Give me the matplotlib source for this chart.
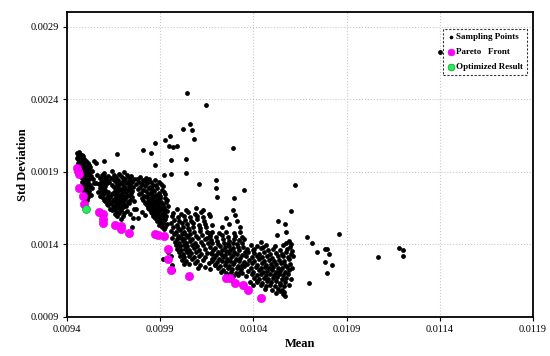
import numpy as np
import matplotlib
matplotlib.use("Agg")
import matplotlib.pyplot as plt
from matplotlib.ticker import FixedLocator

# All values in units of 1e-6 (mean, std)
UNIT = 1e-6

# ---- Sampling points, grouped by region of the cloud ----
strip_pts = [(9455,2030),(9462,2035),(9470,2025),(9478,2015),(9458,2010),(9466,2000),(9475,1998),(9485,2005),(9492,1990),(9460,1985),(9470,1978),(9480,1972),(9490,1965),(9500,1975),(9510,1960),(9465,1955),(9475,1950),(9485,1945),(9495,1940),(9505,1935),(9515,1945),(9525,1930),(9470,1925),(9480,1920),(9490,1912),(9500,1905),(9510,1915),(9520,1900),(9475,1895),(9485,1888),(9495,1880),(9505,1875),(9515,1885),(9528,1870),(9478,1860),(9488,1855),(9498,1848),(9508,1842),(9518,1850),(9482,1830),(9492,1822),(9502,1815),(9512,1820),(9522,1808),(9486,1800),(9496,1792),(9506,1785),(9516,1790),(9490,1770),(9500,1762),(9510,1755),(9520,1765),(9494,1740),(9504,1732),(9514,1725),(9498,1712),(9508,1705),(9530,1740),(9535,1790),(9540,1850),(9542,1971),(9556,1962),(9599,1974),(9468,1940),(9458,1960),(9452,1995),(9472,1905),(9482,1875),(9532,1905),(9545,1820)]

blob2_pts = [(9600,1893),(9680,1886),(9705,1895),
    (9585,1878),(9620,1871),(9650,1880),(9690,1872),(9720,1877),(9745,1870),
    (9575,1856),(9605,1864),(9635,1858),(9662,1862),(9700,1855),(9730,1863),
    (9590,1848),(9615,1841),(9645,1849),(9675,1843),(9710,1847),(9740,1840),(9760,1850),
    (9580,1826),(9600,1834),(9625,1828),(9655,1833),(9685,1825),(9700,1836),(9725,1829),(9750,1832),
    (9572,1818),(9595,1812),(9612,1820),(9640,1811),(9668,1817),(9695,1813),(9718,1820),(9738,1810),
    (9585,1796),(9605,1804),(9650,1798),(9675,1805),(9705,1797),(9730,1802),(9755,1795),
    (9578,1788),(9598,1781),(9660,1789),(9688,1782),(9712,1786),(9740,1780),
    (9590,1766),(9606,1774),(9655,1768),(9678,1775),(9700,1767),(9725,1772),(9750,1765),
    (9582,1758),(9600,1751),(9618,1759),(9648,1752),(9668,1757),(9692,1750),(9718,1758),(9742,1753),
    (9575,1736),(9595,1744),(9620,1738),(9640,1745),(9662,1737),(9685,1742),(9708,1735),(9732,1743),
    (9588,1728),(9610,1721),(9632,1729),(9655,1722),(9678,1727),(9700,1720),(9722,1730),(9748,1724),
    (9598,1706),(9618,1713),(9645,1707),(9668,1714),(9690,1705),(9712,1712),(9738,1708),
    (9605,1698),(9628,1691),(9650,1699),(9675,1692),(9698,1697),(9725,1690),
    (9612,1676),(9638,1683),(9660,1677),(9682,1684),(9705,1678),(9730,1682),
    (9620,1668),(9645,1661),(9668,1669),(9690,1662),(9715,1667),
    (9630,1646),(9655,1653),(9678,1647),(9700,1654),
    (9640,1638),(9665,1631),(9690,1639),(9720,1632),
    (9655,1612),(9680,1619),(9705,1613),
    (9670,1598),(9700,1592),(9690,1577),
    (9666,2024),(9640,1905),(9560,1880),(9555,1820),(9565,1760),(9760,1700),(9770,1640),(9740,1610),(9755,1580)]

blob3_pts = [(9790,1862),(9822,1856),
    (9775,1848),(9806,1842),(9840,1850),(9872,1840),
    (9786,1828),(9816,1834),(9850,1826),(9895,1832),
    (9772,1818),(9800,1812),(9831,1820),(9862,1810),(9905,1816),
    (9790,1796),(9820,1804),(9845,1798),(9876,1806),(9915,1800),
    (9780,1784),(9810,1776),(9838,1786),(9858,1778),(9885,1788),(9910,1776),
    (9795,1756),(9825,1764),(9848,1758),(9868,1766),(9892,1754),(9920,1762),
    (9785,1744),(9812,1736),(9835,1746),(9855,1738),(9875,1742),(9898,1734),(9925,1746),
    (9800,1716),(9828,1724),(9848,1718),(9862,1726),(9880,1714),(9900,1722),(9928,1716),
    (9810,1704),(9835,1696),(9852,1706),(9868,1698),(9885,1708),(9905,1694),(9935,1702),
    (9820,1682),(9842,1690),(9858,1680),(9872,1688),(9890,1684),(9910,1678),(9930,1690),
    (9828,1674),(9848,1666),(9862,1672),(9878,1664),(9895,1676),(9915,1668),
    (9835,1652),(9852,1660),(9868,1654),(9882,1648),(9900,1658),(9920,1650),(9940,1662),
    (9840,1644),(9858,1636),(9872,1642),(9888,1634),(9905,1646),(9925,1638),
    (9848,1622),(9865,1630),(9880,1620),(9895,1628),(9912,1618),(9935,1626),
    (9855,1614),(9870,1606),(9885,1612),(9902,1604),(9920,1616),
    (9862,1592),(9880,1600),(9895,1590),(9912,1598),(9930,1594),
    (9870,1584),(9888,1576),(9905,1582),(9925,1574),
    (9880,1562),(9900,1556),(9918,1564),
    (9895,1536),(9915,1544),(9935,1538),
    (9908,1522),(9928,1516),(9920,1502),
    (9808,2047),(9851,2031),(9874,2100),(9870,1944),(9925,2116),(9950,2143),(9946,2079),(9969,2070),(9992,2077),(9956,1978),(9958,1886),(9922,1875),(9760,1640),(9800,1620),(9780,1580),(9820,1600),(9750,1520)]

blob4_pts = [(9990,1644),(10040,1636),(10090,1648),(10130,1638),
    (9970,1618),(10010,1610),(10050,1622),(10085,1612),(10120,1620),(10160,1612),
    (9962,1594),(9995,1586),(10028,1596),(10060,1588),(10095,1598),(10128,1586),(10165,1592),
    (9972,1568),(10002,1560),(10035,1570),(10065,1562),(10098,1572),(10135,1560),
    (9958,1544),(9988,1536),(10015,1546),(10045,1538),(10075,1548),(10108,1536),(10142,1542),(10175,1536),
    (9968,1518),(9995,1510),(10022,1520),(10048,1512),(10078,1522),(10112,1510),(10148,1516),
    (9960,1494),(9985,1486),(10008,1496),(10030,1488),(10055,1498),(10082,1486),(10115,1492),(10150,1486),
    (9972,1468),(9995,1460),(10018,1470),(10038,1462),(10060,1472),(10090,1460),(10125,1466),(10165,1474),
    (9965,1444),(9988,1436),(10010,1446),(10030,1438),(10050,1448),(10072,1436),(10100,1442),(10138,1436),
    (9978,1418),(10000,1410),(10020,1420),(10040,1412),(10062,1422),(10088,1410),(10118,1416),(10155,1410),
    (9982,1394),(10005,1386),(10025,1396),(10045,1388),(10068,1398),(10095,1386),(10128,1392),
    (9990,1368),(10012,1360),(10032,1370),(10055,1362),(10080,1372),(10108,1360),(10140,1366),
    (9998,1344),(10020,1336),(10042,1346),(10065,1338),(10090,1348),(10120,1336),(10150,1342),
    (10005,1318),(10030,1310),(10055,1320),(10080,1312),(10110,1322),(10140,1310),
    (10015,1294),(10040,1286),(10068,1296),(10098,1288),(10130,1294),
    (10026,1267),(10055,1262),(10085,1270),(10115,1258),
    (10100,1238),(10140,1244),(10165,1232),
    (9916,1297),(9963,1256),(9969,1221),(9940,1350),(9955,1320)]

blob5_pts = [(10175,1484),(10215,1476),(10255,1488),(10295,1478),(10330,1482),
    (10165,1458),(10198,1450),(10232,1462),(10265,1452),(10300,1460),(10338,1450),
    (10172,1432),(10205,1426),(10238,1436),(10268,1424),(10295,1434),(10325,1428),(10352,1436),
    (10180,1408),(10210,1400),(10240,1410),(10262,1402),(10288,1412),(10312,1400),(10340,1406),
    (10168,1384),(10195,1376),(10222,1386),(10248,1378),(10270,1388),(10292,1376),(10318,1384),(10345,1378),
    (10182,1358),(10208,1350),(10232,1360),(10255,1352),(10276,1362),(10298,1350),(10325,1358),(10355,1350),
    (10175,1334),(10200,1326),(10225,1336),(10248,1328),(10268,1338),(10290,1326),(10312,1334),(10338,1328),
    (10190,1308),(10215,1300),(10238,1310),(10260,1302),(10282,1312),(10305,1300),(10330,1306),
    (10180,1284),(10205,1276),(10230,1286),(10252,1278),(10275,1288),(10298,1276),(10322,1284),(10348,1278),
    (10195,1258),(10222,1250),(10245,1260),(10268,1252),(10292,1262),(10318,1250),(10340,1256),
    (10210,1234),(10238,1226),(10262,1236),(10285,1228),(10310,1238),(10335,1230),
    (10228,1208),(10255,1200),(10280,1210),(10305,1202),(10330,1208),
    (10265,1188),(10292,1182),(10318,1190),
    (10160,1480),(10150,1440),(10170,1340),(10180,1300),(10195,1260),(10160,1270),(10230,1520),(10270,1540),(10310,1560),(10300,1600),(10255,1580),(10330,1520)]

blob6_pts = [(10385,1392),(10420,1385),(10470,1398),(10515,1388),(10560,1394),(10595,1384),
    (10365,1368),(10398,1360),(10440,1372),(10478,1358),(10505,1366),(10545,1362),(10580,1370),(10608,1356),
    (10372,1345),(10405,1338),(10430,1332),(10458,1347),(10488,1336),(10520,1342),(10552,1335),(10575,1348),(10600,1330),
    (10360,1318),(10390,1310),(10418,1322),(10445,1312),(10472,1320),(10498,1308),(10530,1316),(10558,1322),(10585,1310),(10612,1318),
    (10378,1292),(10402,1285),(10430,1296),(10458,1288),(10482,1294),(10510,1284),(10538,1292),(10562,1286),(10590,1296),
    (10365,1262),(10392,1270),(10420,1260),(10448,1268),(10470,1258),(10495,1266),(10522,1262),(10548,1270),(10570,1258),(10598,1266),
    (10385,1238),(10412,1245),(10438,1235),(10460,1242),(10482,1236),(10505,1246),(10530,1240),(10555,1234),(10578,1245),(10605,1238),
    (10372,1218),(10400,1212),(10428,1220),(10452,1210),(10475,1216),(10498,1222),(10520,1212),(10545,1218),(10568,1210),(10592,1220),
    (10390,1192),(10418,1186),(10442,1195),(10465,1188),(10488,1194),(10512,1185),(10535,1192),(10560,1186),(10585,1196),
    (10405,1168),(10432,1162),(10458,1170),(10480,1160),(10505,1166),(10528,1172),(10552,1162),(10575,1168),(10600,1160),
    (10420,1142),(10448,1136),(10472,1145),(10495,1138),(10520,1144),(10545,1135),(10570,1142),
    (10440,1118),(10465,1112),(10490,1120),(10515,1110),(10540,1116),(10565,1112),(10590,1120),
    (10460,1092),(10500,1086),(10530,1095),(10555,1088),
    (10521,1067),(10557,1056),(10572,1042),(10564,1072),(10540,1075),
    (10443,1418),(10451,1382),(10405,1370),(10350,1250),(10340,1200),(10360,1180),(10380,1140),(10400,1120),(10420,1150),(10600,1400),(10590,1420)]

outlier_pts = [(10041,2444),(10147,2361),(10022,2196),(10060,2230),(10070,2185),(10081,2125),(10039,1990),(10039,1891),(10108,1818),(10199,1841),(10199,1790),(10290,2061),(10347,1774),(10294,1721),(10206,1726),(10292,1634),(10624,1811),(10599,1627),(10533,1558),(10570,1542),(10527,1464),(10574,1483),(10574,1409),(10686,1451),(10713,1412),(10741,1347),(10785,1368),(10796,1368),(10805,1331),(10785,1276),(10821,1256),(10796,1205),(10861,1474),(10697,1134),(11069,1311),(11179,1377),(11202,1363),(11202,1317),(11400,2724)]

# ---- Pareto front ----
pareto_mean = [9453, 9461, 9464, 9464, 9485, 9489, 9571, 9593, 9595, 9595, 9658, 9688, 9690, 9732, 9874, 9889, 9918, 9941, 9943, 9956, 10054, 10254, 10274, 10303, 10343, 10373, 10443]
pareto_std  = [1928, 1905, 1886, 1785, 1730, 1680, 1620, 1611, 1577, 1549, 1531, 1526, 1506, 1480, 1473, 1462, 1455, 1366, 1297, 1223, 1178, 1166, 1166, 1132, 1118, 1086, 1031]

# ---- Optimized result ----
opt_mean = [9499]
opt_std = [1643]

x_ticks = [0.0094, 0.0099, 0.0104, 0.0109, 0.0114, 0.0119]
y_ticks = [0.0009, 0.0014, 0.0019, 0.0024, 0.0029]

samp = np.array(strip_pts + blob2_pts + blob3_pts + blob4_pts + blob5_pts + blob6_pts + outlier_pts,
                dtype=float) * UNIT

plt.rcParams['font.family'] = ['Liberation Serif', 'DejaVu Serif']

fig = plt.figure(figsize=(5.5, 3.56), dpi=100)
ax = fig.add_axes([0.122, 0.110, 0.847, 0.856])

ax.scatter(samp[:, 0], samp[:, 1], s=12, c='black', linewidths=0, label='Sampling Points', zorder=3)
ax.scatter(np.array(pareto_mean) * UNIT, np.array(pareto_std) * UNIT, s=36, c='#ff00ff',
           edgecolors='#e000e0', linewidths=0.4, label='Pareto   Front', zorder=4)
ax.scatter(np.array(opt_mean) * UNIT, np.array(opt_std) * UNIT, s=32, c='#22ee55',
           edgecolors='#119933', linewidths=0.5, label='Optimized Result', zorder=5)

ax.set_xlim(0.0094, 0.0119)
ax.set_ylim(0.0009, 0.0030)
ax.xaxis.set_major_locator(FixedLocator(x_ticks))
ax.yaxis.set_major_locator(FixedLocator(y_ticks))
ax.set_xticklabels([f"{v:.4f}" for v in x_ticks], fontsize=7.5)
ax.set_yticklabels([f"{v:.4f}" for v in y_ticks], fontsize=7.5)
ax.tick_params(axis='both', direction='out', length=3, width=0.8, pad=3)
ax.grid(True, linestyle=':', color='#c8c8c8', linewidth=0.8)
ax.set_axisbelow(True)
for sp in ax.spines.values():
    sp.set_linewidth(1.3)
    sp.set_color('black')

ax.set_xlabel('Mean', fontsize=9, fontweight='bold', labelpad=3)
ax.set_ylabel('Std Deviation', fontsize=9, fontweight='bold', labelpad=1)

leg = ax.legend(loc='upper right', bbox_to_anchor=(0.993, 0.955), frameon=True, fancybox=False,
                prop={'weight': 'bold', 'size': 6.5}, handletextpad=0.0, borderpad=0.45,
                labelspacing=0.75, handlelength=1.0, borderaxespad=0.3)
leg.legend_handles[0].set_sizes([7])
leg.legend_handles[1].set_sizes([24])
leg.legend_handles[2].set_sizes([24])
frame = leg.get_frame()
frame.set_edgecolor('black')
frame.set_linestyle((0, (2, 1.5)))
frame.set_linewidth(0.8)

fig.savefig('out.png', dpi=100)
